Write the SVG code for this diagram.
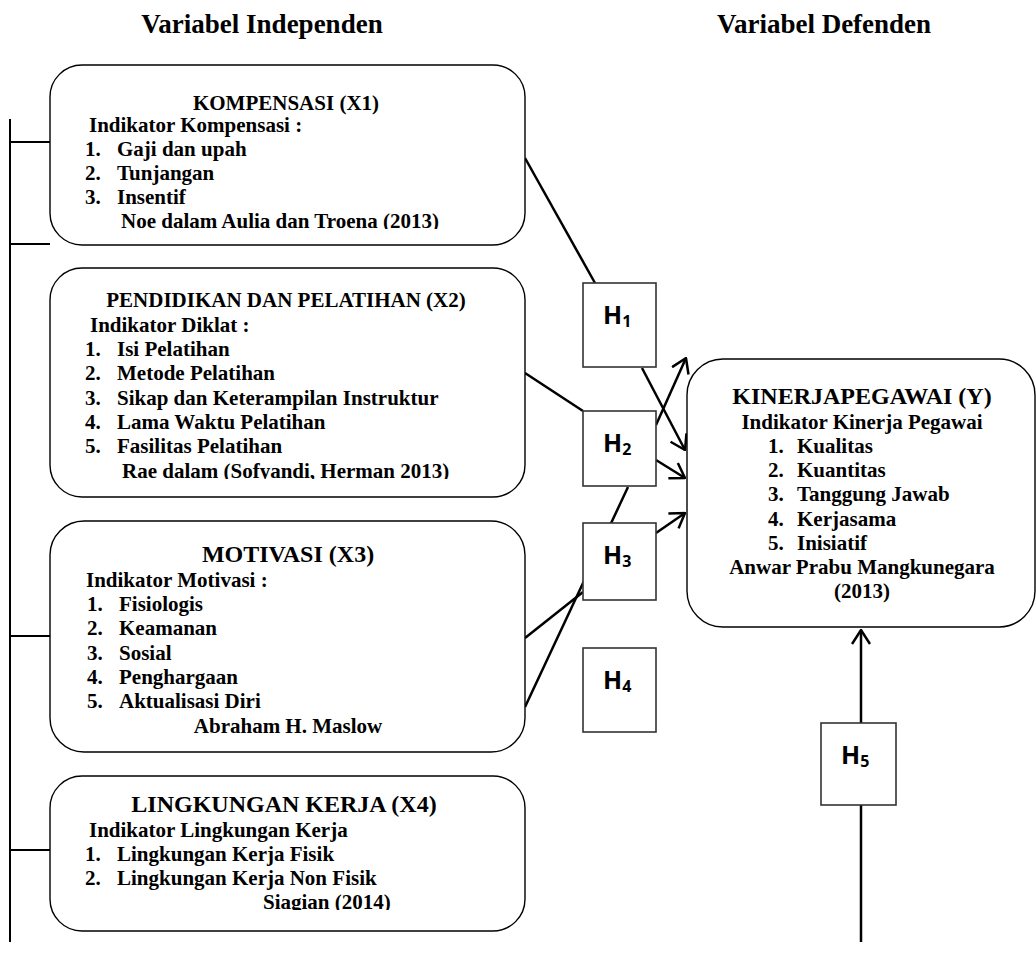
<svg xmlns="http://www.w3.org/2000/svg" width="1036" height="955" viewBox="0 0 1036 955">
<style>
.t{font-family:"Liberation Serif","Times New Roman",serif;font-weight:bold;font-size:21px;fill:#000}
.ti{font-size:24px}
.hd{font-size:27px}
.c{text-anchor:middle}
.box{fill:#fff;stroke:#000;stroke-width:1.4}
.hb{fill:#fff;stroke:#333;stroke-width:1.6}
.h{font-family:"Open Sans","Noto Sans",sans-serif;font-weight:bold;font-size:25px;fill:#000}
.hs{font-size:16px}
.ln{stroke:#000;stroke-width:2.5;fill:none}
.br{stroke:#000;stroke-width:2;fill:none}
</style>
<defs>
<marker id="ar" viewBox="0 0 16 20" refX="15" refY="10" markerWidth="16" markerHeight="20" markerUnits="userSpaceOnUse" orient="auto">
<path d="M1,1 L15,10 L1,19" fill="none" stroke="#000" stroke-width="2.5"/>
</marker>
<clipPath id="c1"><rect x="50" y="65" width="475" height="164"/></clipPath>
<clipPath id="c2"><rect x="50" y="268" width="475" height="211"/></clipPath>
<clipPath id="c3"><rect x="50" y="521" width="475" height="213"/></clipPath>
<clipPath id="c4"><rect x="50" y="776" width="475" height="134"/></clipPath>
</defs>

<g id="headers">
<text class="t hd c" x="262" y="33">Variabel Independen</text>
<text class="t hd c" x="824" y="33">Variabel Defenden</text>
</g>

<g id="bracket">
<line class="br" x1="10" y1="119" x2="10" y2="942"/>
<line class="br" x1="10" y1="142" x2="50" y2="142"/>
<line class="br" x1="10" y1="244" x2="50" y2="244"/>
<line class="br" x1="10" y1="636" x2="50" y2="636"/>
<line class="br" x1="10" y1="850" x2="50" y2="850"/>
</g>

<g id="connectors">
<line class="ln" x1="525" y1="158" x2="595" y2="283"/>
<line class="ln" x1="642" y1="368" x2="685" y2="450" marker-end="url(#ar)"/>
<line class="ln" x1="525" y1="373" x2="583" y2="411"/>
<line class="ln" x1="656" y1="425" x2="686" y2="358" marker-end="url(#ar)"/>
<line class="ln" x1="656" y1="460" x2="685" y2="478" marker-end="url(#ar)"/>
<line class="ln" x1="525" y1="707" x2="628" y2="487"/>
<line class="ln" x1="525" y1="638" x2="583" y2="592"/>
<line class="ln" x1="656" y1="533" x2="685" y2="513" marker-end="url(#ar)"/>
<line class="ln" x1="861" y1="942" x2="861" y2="805"/>
<line class="ln" x1="861" y1="723" x2="861" y2="630" marker-end="url(#ar)"/>
</g>

<g id="x1">
<rect class="box" x="50" y="65" width="475" height="180" rx="32"/>
<g clip-path="url(#c1)">
<text class="t c" x="286" y="110">KOMPENSASI (X1)</text>
<text class="t" x="89" y="132">Indikator Kompensasi :</text>
<text class="t" x="85" y="156">1.</text><text class="t" x="117" y="156">Gaji dan upah</text>
<text class="t" x="85" y="180">2.</text><text class="t" x="117" y="180">Tunjangan</text>
<text class="t" x="85" y="204">3.</text><text class="t" x="117" y="204">Insentif</text>
<text class="t" x="121" y="228">Noe dalam Aulia dan Troena (2013)</text>
</g>
</g>

<g id="x2">
<rect class="box" x="50" y="268" width="475" height="229" rx="32"/>
<g clip-path="url(#c2)">
<text class="t c" x="286" y="307">PENDIDIKAN DAN PELATIHAN (X2)</text>
<text class="t" x="90" y="332">Indikator Diklat :</text>
<text class="t" x="85" y="356">1.</text><text class="t" x="117" y="356">Isi Pelatihan</text>
<text class="t" x="85" y="380">2.</text><text class="t" x="117" y="380">Metode Pelatihan</text>
<text class="t" x="85" y="405">3.</text><text class="t" x="117" y="405">Sikap dan Keterampilan Instruktur</text>
<text class="t" x="85" y="429">4.</text><text class="t" x="117" y="429">Lama Waktu Pelatihan</text>
<text class="t" x="85" y="453">5.</text><text class="t" x="117" y="453">Fasilitas Pelatihan</text>
<text class="t" x="122" y="478">Rae dalam (Sofyandi, Herman 2013)</text>
</g>
</g>

<g id="x3">
<rect class="box" x="50" y="521" width="475" height="231" rx="34"/>
<g clip-path="url(#c3)">
<text class="t ti c" x="288" y="562">MOTIVASI (X3)</text>
<text class="t" x="86" y="587">Indikator Motivasi :</text>
<text class="t" x="87" y="611">1.</text><text class="t" x="119" y="611">Fisiologis</text>
<text class="t" x="87" y="635">2.</text><text class="t" x="119" y="635">Keamanan</text>
<text class="t" x="87" y="660">3.</text><text class="t" x="119" y="660">Sosial</text>
<text class="t" x="87" y="684">4.</text><text class="t" x="119" y="684">Penghargaan</text>
<text class="t" x="87" y="708">5.</text><text class="t" x="119" y="708">Aktualisasi Diri</text>
<text class="t c" x="288" y="733">Abraham H. Maslow</text>
</g>
</g>

<g id="x4">
<rect class="box" x="50" y="776" width="475" height="155" rx="32"/>
<g clip-path="url(#c4)">
<text class="t ti c" x="284" y="812">LINGKUNGAN KERJA (X4)</text>
<text class="t" x="89" y="837">Indikator Lingkungan Kerja</text>
<text class="t" x="85" y="861">1.</text><text class="t" x="117" y="861">Lingkungan Kerja Fisik</text>
<text class="t" x="85" y="885">2.</text><text class="t" x="117" y="885">Lingkungan Kerja Non Fisik</text>
<text class="t" x="263" y="909">Siagian (2014)</text>
</g>
</g>

<g id="y">
<rect class="box" x="687" y="359" width="348" height="268" rx="36"/>
<text class="t ti c" x="862" y="404">KINERJAPEGAWAI (Y)</text>
<text class="t c" x="862" y="429">Indikator Kinerja Pegawai</text>
<text class="t" x="768" y="453">1.</text><text class="t" x="797" y="453">Kualitas</text>
<text class="t" x="768" y="477">2.</text><text class="t" x="797" y="477">Kuantitas</text>
<text class="t" x="768" y="501">3.</text><text class="t" x="797" y="501">Tanggung Jawab</text>
<text class="t" x="768" y="526">4.</text><text class="t" x="797" y="526">Kerjasama</text>
<text class="t" x="768" y="550">5.</text><text class="t" x="797" y="550">Inisiatif</text>
<text class="t c" x="862" y="574">Anwar Prabu Mangkunegara</text>
<text class="t c" x="862" y="598">(2013)</text>
</g>

<g id="h1"><rect class="hb" x="583" y="283" width="73" height="84"/><text class="h" x="603" y="324">H<tspan class="hs" dy="3">1</tspan></text></g>
<g id="h2"><rect class="hb" x="583" y="411" width="73" height="75"/><text class="h" x="603" y="452">H<tspan class="hs" dy="3">2</tspan></text></g>
<g id="h3"><rect class="hb" x="583" y="523" width="73" height="77"/><text class="h" x="603" y="564">H<tspan class="hs" dy="3">3</tspan></text></g>
<g id="h4"><rect class="hb" x="583" y="648" width="73" height="84"/><text class="h" x="603" y="689">H<tspan class="hs" dy="3">4</tspan></text></g>
<g id="h5"><rect class="hb" x="821" y="723" width="75" height="82"/><text class="h" x="841" y="764">H<tspan class="hs" dy="3">5</tspan></text></g>
</svg>
